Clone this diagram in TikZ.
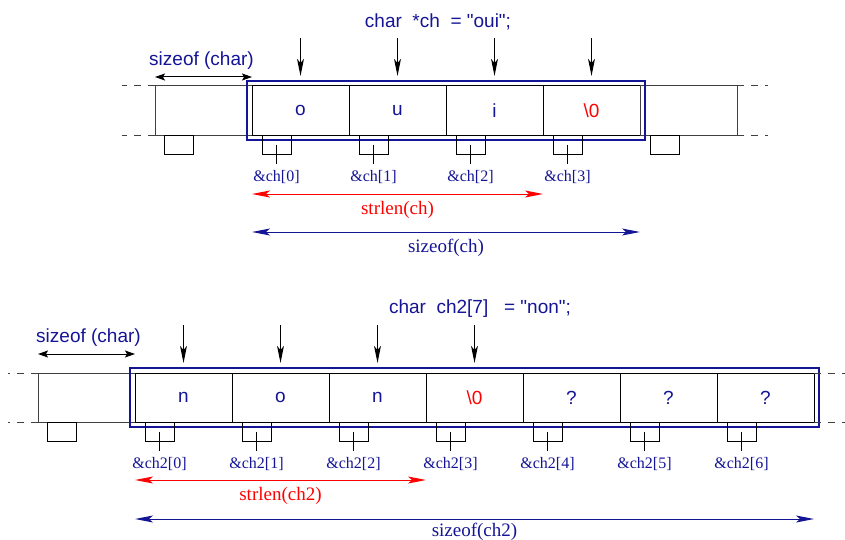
\documentclass[tikz,border=0pt]{standalone}
\usepackage{fontspec}
\setmainfont{Liberation Serif}
\setsansfont{Liberation Sans}
\newfontfamily\codefont{Liberation Sans}
\usetikzlibrary{positioning,fit,arrows.meta}
\definecolor{ink}{RGB}{20,20,150}

\begin{document}
\begin{tikzpicture}[x=0.5pt,y=-0.5pt,line width=0.5pt,
    cell/.style={draw, minimum width=48.5pt, minimum height=24.5pt, inner sep=0pt, outer sep=0pt, text=ink, font=\sffamily\fontsize{9.5}{11}\selectfont},
    spare/.style={cell, draw=black!75},
    slot/.style={draw, minimum width=14.5pt, minimum height=9.5pt, inner sep=0pt, outer sep=0pt},
    addr/.style={text=ink, inner sep=3pt, font=\fontsize{8}{10}\selectfont},
    decl/.style={text=ink, font=\codefont\fontsize{9.5}{11}\selectfont},
    lbl/.style={font=\fontsize{9.5}{11}\selectfont},
    ptr/.style={-{Stealth[length=8.5pt,width=3.4pt,inset=2pt]}},
    dim/.style={{Stealth[length=9pt,width=3.5pt,inset=2pt]}-{Stealth[length=9pt,width=3.5pt,inset=2pt]}},
    unit/.style={{Stealth[length=5pt,width=3.5pt,inset=1pt]}-{Stealth[length=5pt,width=3.5pt,inset=1pt]}},
    edge/.style={dashed, dash pattern=on 3.5pt off 3.5pt, draw=black!75}]
    \useasboundingbox (0,0) rectangle (845,540);

    % char *ch = "oui";
    \node[decl] (t1) at (438,22) {char\ \ *ch\ \ = "oui";};
    \node[spare] (a0) at (155,86) [anchor=north west] {};
    \node[cell] (a1) [right=0pt of a0] {o};
    \node[cell] (a2) [right=0pt of a1] {u};
    \node[cell] (a3) [right=0pt of a2] {i};
    \node[cell, text=red] (a4) [right=0pt of a3] {\textbackslash 0};
    \node[spare] (a5) [right=0pt of a4] {};
    \node[draw=ink, line width=1pt, inner sep=2.5pt, fit=(a1)(a4)] (s1) {};

    \draw[edge] (a0.north west) -- ++(-33,0);
    \draw[edge] (a0.south west) -- ++(-33,0);
    \draw[edge] (a5.north east) -- ++(31,0);
    \draw[edge] (a5.south east) -- ++(31,0);

    \node[slot] (p0) [below right=0pt and 4.5pt of a0.south west] {};
    \node[slot] (p1) [below right=0pt and 5pt of a1.south west] {};
    \node[slot] (p2) [below right=0pt and 5pt of a2.south west] {};
    \node[slot] (p3) [below right=0pt and 5pt of a3.south west] {};
    \node[slot] (p4) [below right=0pt and 5pt of a4.south west] {};
    \node[slot] (p5) [below right=0pt and 5pt of a5.south west] {};

    \node[addr] (l1) [below=5pt of p1] {\&ch[0]};
    \node[addr] (l2) [below=5pt of p2] {\&ch[1]};
    \node[addr] (l3) [below=5pt of p3] {\&ch[2]};
    \node[addr] (l4) [below=5pt of p4] {\&ch[3]};
    \draw (p1.center) -- (l1);
    \draw (p2.center) -- (l2);
    \draw (p3.center) -- (l3);
    \draw (p4.center) -- (l4);

    \draw[ptr] ([yshift=24pt]a1.north) -- ([yshift=5pt]a1.north);
    \draw[ptr] ([yshift=24pt]a2.north) -- ([yshift=5pt]a2.north);
    \draw[ptr] ([yshift=24pt]a3.north) -- ([yshift=5pt]a3.north);
    \draw[ptr] ([yshift=24pt]a4.north) -- ([yshift=5pt]a4.north);

    \draw[unit] ([yshift=4.5pt]a0.north west) -- ([yshift=4.5pt]a0.north east)
        node[midway, above, xshift=-1pt, decl] {sizeof (char)};
    \draw[dim, red] ([yshift=-29.5pt]a1.south west) -- ([yshift=-29.5pt]a4.south west)
        node[midway, below, lbl] {strlen(ch)};
    \draw[dim, ink] ([yshift=-48.5pt]a1.south west) -- ([yshift=-48.5pt]a4.south east)
        node[midway, below, lbl] {sizeof(ch)};

    % char ch2[7] = "non";
    \node[decl] (t2) at (480,309) {char\ \ ch2[7]\ \ \ = "non";};
    \node[spare] (b0) at (38,373) [anchor=north west] {};
    \node[cell] (b1) [right=0pt of b0] {n};
    \node[cell] (b2) [right=0pt of b1] {o};
    \node[cell] (b3) [right=0pt of b2] {n};
    \node[cell, text=red] (b4) [right=0pt of b3] {\textbackslash 0};
    \node[cell] (b5) [right=0pt of b4] {?};
    \node[cell] (b6) [right=0pt of b5] {?};
    \node[cell] (b7) [right=0pt of b6] {?};
    \node[draw=ink, line width=1pt, inner sep=2.5pt, fit=(b1)(b7)] (s2) {};

    \draw[edge] (b0.north west) -- ++(-30,0);
    \draw[edge] (b0.south west) -- ++(-30,0);
    \draw[edge] (b7.north east) -- ++(31,0);
    \draw[edge] (b7.south east) -- ++(31,0);

    \node[slot] (q0) [below right=0pt and 4.5pt of b0.south west] {};
    \node[slot] (q1) [below right=0pt and 5pt of b1.south west] {};
    \node[slot] (q2) [below right=0pt and 5pt of b2.south west] {};
    \node[slot] (q3) [below right=0pt and 5pt of b3.south west] {};
    \node[slot] (q4) [below right=0pt and 5pt of b4.south west] {};
    \node[slot] (q5) [below right=0pt and 5pt of b5.south west] {};
    \node[slot] (q6) [below right=0pt and 5pt of b6.south west] {};
    \node[slot] (q7) [below right=0pt and 5pt of b7.south west] {};

    \node[addr] (m1) [below=5pt of q1] {\&ch2[0]};
    \node[addr] (m2) [below=5pt of q2] {\&ch2[1]};
    \node[addr] (m3) [below=5pt of q3] {\&ch2[2]};
    \node[addr] (m4) [below=5pt of q4] {\&ch2[3]};
    \node[addr] (m5) [below=5pt of q5] {\&ch2[4]};
    \node[addr] (m6) [below=5pt of q6] {\&ch2[5]};
    \node[addr] (m7) [below=5pt of q7] {\&ch2[6]};
    \draw (q1.center) -- (m1);
    \draw (q2.center) -- (m2);
    \draw (q3.center) -- (m3);
    \draw (q4.center) -- (m4);
    \draw (q5.center) -- (m5);
    \draw (q6.center) -- (m6);
    \draw (q7.center) -- (m7);

    \draw[ptr] ([yshift=24pt]b1.north) -- ([yshift=5pt]b1.north);
    \draw[ptr] ([yshift=24pt]b2.north) -- ([yshift=5pt]b2.north);
    \draw[ptr] ([yshift=24pt]b3.north) -- ([yshift=5pt]b3.north);
    \draw[ptr] ([yshift=24pt]b4.north) -- ([yshift=5pt]b4.north);

    \draw[unit] ([yshift=9.5pt]b0.north west) -- ([yshift=9.5pt]b0.north east)
        node[midway, above, xshift=1pt, decl] {sizeof (char)};
    \draw[dim, red] ([yshift=-29pt]b1.south west) -- ([yshift=-29pt]b4.south west)
        node[midway, below, lbl] {strlen(ch2)};
    \draw[dim, ink] ([yshift=-48.5pt]b1.south west) -- ([yshift=-48.5pt]b7.south east)
        node[midway, below, inner sep=2pt, lbl] {sizeof(ch2)};
\end{tikzpicture}
\end{document}
